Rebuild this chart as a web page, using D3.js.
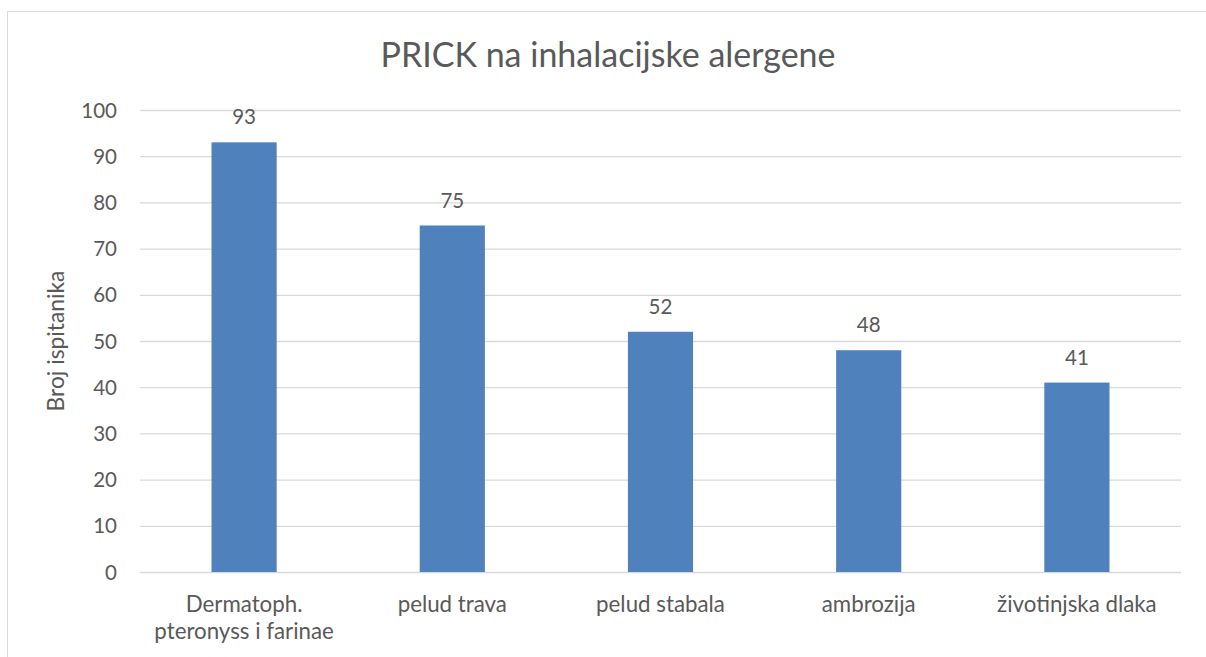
<!DOCTYPE html>
<html><head><meta charset="utf-8">
<script src="https://cdn.jsdelivr.net/npm/d3@7"></script>
<style>html,body{margin:0;padding:0;background:#fff;}</style>
</head><body>
<svg id="chart" width="1206" height="657"></svg>
<script>
const categories = [["Dermatoph.", "pteronyss i farinae"], ["pelud trava"], ["pelud stabala"], ["ambrozija"], ["životinjska dlaka"]];
const values = [93, 75, 52, 48, 41];
const yTicks = [0, 10, 20, 30, 40, 50, 60, 70, 80, 90, 100];
const title = "PRICK na inhalacijske alergene";
const yTitle = "Broj ispitanika";

(function() {
const svg = d3.select("#chart");
const font = "Lato, 'Open Sans', sans-serif";
const txt = "#595959";

svg.append("rect").attr("x", 7.5).attr("y", 11.5).attr("width", 1210).attr("height", 700)
  .attr("fill", "#fff").attr("stroke", "#d9d9d9").attr("stroke-width", 1);

const pl = 140, pr = 1181, pt = 110, pb = 572;
const x = d3.scaleBand().domain(d3.range(categories.length)).range([pl, pr]).paddingInner(0.687).paddingOuter(0.3435);
const y = d3.scaleLinear().domain([0, 100]).range([pb, pt]);

const grid = d3.axisLeft(y).tickValues(yTicks).tickSize(-(pr - pl)).tickFormat(d => d);
const gy = svg.append("g").attr("transform", `translate(${pl},0)`).call(grid);
gy.select(".domain").remove();
gy.selectAll(".tick line").attr("stroke", "#d9d9d9").attr("stroke-width", 1.3);
gy.selectAll(".tick text").attr("x", -23).attr("dy", "0.35em").attr("fill", txt)
  .style("font-family", font).style("font-size", "20.5px");

svg.selectAll(".bar").data(values).join("rect").attr("class", "bar")
  .attr("x", (d, i) => x(i)).attr("width", x.bandwidth())
  .attr("y", d => y(d)).attr("height", d => y(0) - y(d)).attr("fill", "#4f81bd");

svg.selectAll(".lbl").data(values).join("text").attr("class", "lbl")
  .attr("x", (d, i) => x(i) + x.bandwidth() / 2).attr("y", d => y(d) - 18)
  .attr("text-anchor", "middle").attr("fill", txt)
  .style("font-family", font).style("font-size", "20.5px").text(d => d);

const cg = svg.selectAll(".cat").data(categories).join("text").attr("class", "cat")
  .attr("text-anchor", "middle").attr("fill", txt)
  .style("font-family", font).style("font-size", "22.3px");
cg.each(function(lines, i) {
  const t = d3.select(this);
  lines.forEach((l, j) => t.append("tspan").attr("x", x(i) + x.bandwidth() / 2).attr("y", 612 + j * 26.5).text(l));
});

svg.append("text").attr("x", 608).attr("y", 67).attr("text-anchor", "middle")
  .attr("fill", txt).style("font-family", font).style("font-size", "34px").text(title);

svg.append("text").attr("transform", `translate(64,${(pt + pb) / 2}) rotate(-90)`)
  .attr("text-anchor", "middle").attr("fill", txt)
  .style("font-family", font).style("font-size", "22.8px").text(yTitle);
})();
</script>
</body></html>
